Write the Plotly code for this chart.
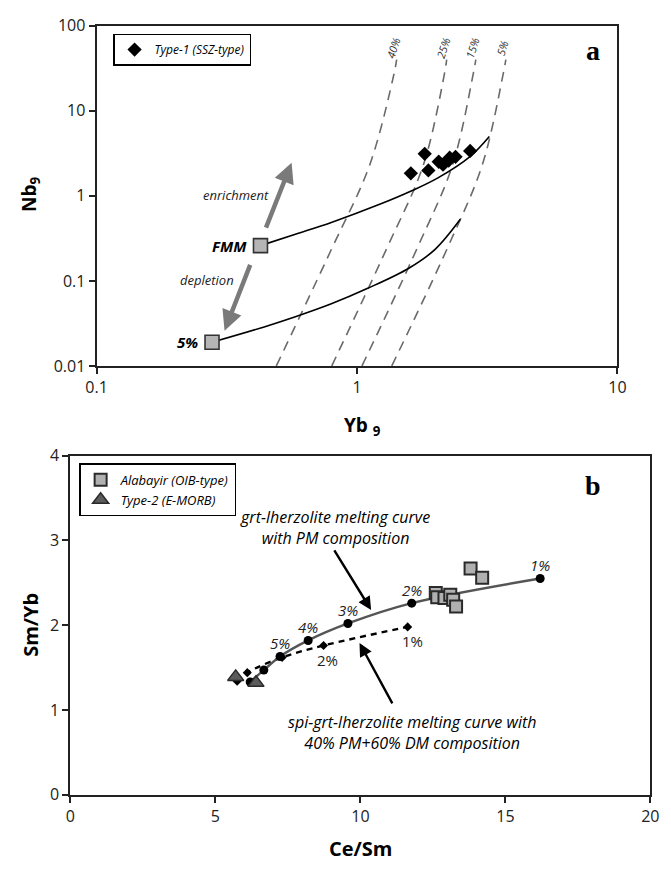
import numpy as np
import plotly.graph_objects as go

# ---------------- Panel a data ----------------
type1_yb = [1.61, 1.82, 1.88, 2.06, 2.14, 2.25, 2.27, 2.39, 2.72]
type1_nb = [1.84, 3.12, 1.99, 2.52, 2.33, 2.60, 2.81, 2.88, 3.38]

ref_labels = ["FMM", "5%"]
ref_yb = [0.426, 0.2775]
ref_nb = [0.26, 0.019]

fmm_curve_yb = [0.426, 0.580, 0.797, 1.222, 1.623, 2.046, 2.716, 3.223]
fmm_curve_nb = [0.26, 0.354, 0.487, 0.796, 1.15, 1.63, 2.9, 5.0]

dep_curve_yb = [0.2775, 0.437, 0.580, 0.797, 1.094, 1.582, 1.995, 2.493]
dep_curve_nb = [0.019, 0.0286, 0.0379, 0.0538, 0.0813, 0.141, 0.235, 0.53]

melt_labels = ["40%", "25%", "15%", "5%"]
melt_nb = [0.01, 0.24, 2.33, 28, 40]
melt40_yb = [0.49, 0.80, 1.12, 1.39, 1.42]
melt25_yb = [0.80, 1.30, 1.80, 2.17, 2.21]
melt15_yb = [1.045, 1.70, 2.33, 2.80, 2.86]
melt05_yb = [1.36, 2.22, 3.03, 3.65, 3.73]

enrich_arrow_yb = [0.445, 0.561]   # tail, head
enrich_arrow_nb = [0.406, 2.46]
deplet_arrow_yb = [0.391, 0.310]
deplet_arrow_nb = [0.161, 0.026]

# ---------------- Panel b data ----------------
alab_cesm = [12.6, 12.65, 12.9, 13.1, 13.2, 13.3, 13.8, 14.2]
alab_smyb = [2.38, 2.33, 2.32, 2.36, 2.30, 2.22, 2.67, 2.56]

type2_cesm = [5.7, 6.4]
type2_smyb = [1.39, 1.32]

grt_cesm = [6.2, 6.67, 7.23, 8.2, 9.57, 11.77, 16.2]
grt_smyb = [1.33, 1.47, 1.63, 1.82, 2.02, 2.26, 2.55]
grt_labels = ["", "", "5%", "4%", "3%", "2%", "1%"]

spi_cesm = [5.75, 6.1, 7.3, 8.73, 11.63]
spi_smyb = [1.34, 1.44, 1.62, 1.76, 1.98]
spi_labels = ["", "", "", "2%", "1%"]

# page has an 8px body margin; layout is sized to fit inside the 671x873 window
OFF = 8
W, H = 671 - OFF, 873 - OFF
FONT = "Open Sans"


def fx(px):  # page pixel -> paper x
    return (px - OFF) / W


def fy(py):  # page pixel -> paper y
    return 1 - (py - OFF) / H


fig = go.Figure()

# --- panel a traces ---
for xs in [melt40_yb, melt25_yb, melt15_yb, melt05_yb]:
    fig.add_trace(go.Scatter(x=xs, y=melt_nb, mode="lines", xaxis="x", yaxis="y",
                             line=dict(color="#6a6a6a", width=1.6, dash="10px,7px", shape="spline"),
                             showlegend=False, hoverinfo="skip"))
fig.add_trace(go.Scatter(x=fmm_curve_yb, y=fmm_curve_nb, mode="lines", xaxis="x", yaxis="y",
                         line=dict(color="black", width=1.6, shape="spline", smoothing=1.0),
                         showlegend=False))
fig.add_trace(go.Scatter(x=dep_curve_yb, y=dep_curve_nb, mode="lines", xaxis="x", yaxis="y",
                         line=dict(color="black", width=1.6, shape="spline", smoothing=1.0),
                         showlegend=False))
fig.add_trace(go.Scatter(x=ref_yb, y=ref_nb, mode="markers", xaxis="x", yaxis="y",
                         marker=dict(symbol="square", size=14, color="#b5b5b5",
                                     line=dict(color="#333333", width=1.6)),
                         showlegend=False))
fig.add_trace(go.Scatter(x=type1_yb, y=type1_nb, mode="markers", xaxis="x", yaxis="y",
                         name="Type-1 (SSZ-type)", legend="legend",
                         marker=dict(symbol="diamond", size=11, color="black")))

# --- panel b traces ---
fig.add_trace(go.Scatter(x=spi_cesm, y=spi_smyb, mode="lines+markers", xaxis="x2", yaxis="y2",
                         line=dict(color="black", width=2.4, dash="6px,5px", shape="spline"),
                         marker=dict(symbol="diamond", size=7, color="black"),
                         showlegend=False))
fig.add_trace(go.Scatter(x=grt_cesm, y=grt_smyb, mode="lines+markers", xaxis="x2", yaxis="y2",
                         line=dict(color="#555555", width=2.4, shape="spline"),
                         marker=dict(symbol="circle", size=9, color="black"),
                         showlegend=False))
fig.add_trace(go.Scatter(x=alab_cesm, y=alab_smyb, mode="markers", xaxis="x2", yaxis="y2",
                         name="Alabayir (OIB-type)", legend="legend2",
                         marker=dict(symbol="square", size=12, color="#b0b0b0",
                                     line=dict(color="#2a2a2a", width=2))))
fig.add_trace(go.Scatter(x=type2_cesm, y=type2_smyb, mode="markers", xaxis="x2", yaxis="y2",
                         name="Type-2 (E-MORB)", legend="legend2",
                         marker=dict(symbol="triangle-up", size=14, color="#5c5c5c",
                                     line=dict(color="#2a2a2a", width=1.5))))

# ---------------- annotations ----------------
ann = []
L = np.log10
C = dict(xanchor="center", yanchor="middle")
# panel a arrows
for xs, ys in [(enrich_arrow_yb, enrich_arrow_nb), (deplet_arrow_yb, deplet_arrow_nb)]:
    ann.append(dict(xref="x", yref="y", axref="x", ayref="y",
                    x=float(L(xs[1])), y=float(L(ys[1])), ax=float(L(xs[0])), ay=float(L(ys[0])),
                    showarrow=True, arrowhead=2, arrowsize=0.9, arrowwidth=4.5,
                    arrowcolor="#7a7a7a", text=""))
ann.append(dict(xref="x", yref="y", x=-0.464, y=0.011, text="<i>enrichment</i>",
                showarrow=False, font=dict(family=FONT, size=13, color="#222"), **C))
ann.append(dict(xref="x", yref="y", x=-0.575, y=-0.989, text="<i>depletion</i>",
                showarrow=False, font=dict(family=FONT, size=13, color="#222"), **C))
for lab, xx, yy in zip(ref_labels, ref_yb, ref_nb):
    ann.append(dict(xref="x", yref="y", x=float(L(xx)) - 0.045, y=float(L(yy)),
                    text="<b><i>%s</i></b>" % lab, showarrow=False, xanchor="right",
                    yanchor="middle", font=dict(family=FONT, size=15, color="black")))
for lab, xs in zip(melt_labels, [melt40_yb, melt25_yb, melt15_yb, melt05_yb]):
    ann.append(dict(xref="x", yref="y", x=float(L(xs[-1])) - 0.012, y=1.74,
                    text="<i>%s</i>" % lab, showarrow=False, textangle=-72,
                    font=dict(family=FONT, size=11, color="#333"), **C))
ann.append(dict(xref="paper", yref="paper", x=fx(600), y=fy(40), text="<b>a</b>",
                showarrow=False, font=dict(family="Liberation Serif", size=28, color="black"), **C))
ann.append(dict(xref="paper", yref="paper", x=fx(20), y=fy(188),
                text="<b>Nb<sub>9</sub></b>", textangle=-90, showarrow=False,
                font=dict(family=FONT, size=19, color="black"), **C))
ann.append(dict(xref="paper", yref="paper", x=fx(362), y=fy(426),
                text="<b>Yb <sub>9</sub></b>", showarrow=False,
                font=dict(family=FONT, size=19, color="black"), **C))

# panel b labels
for xx, yy, lab in zip(grt_cesm, grt_smyb, grt_labels):
    if lab:
        ann.append(dict(xref="x2", yref="y2", x=xx, y=yy + 0.16, text="<i>%s</i>" % lab,
                        showarrow=False, font=dict(family=FONT, size=15, color="#222"), **C))
for xx, yy, lab in zip(spi_cesm, spi_smyb, spi_labels):
    if lab:
        ann.append(dict(xref="x2", yref="y2", x=xx + 0.15, y=yy - 0.17, text=lab,
                        showarrow=False, font=dict(family=FONT, size=15, color="#222"), **C))
ann.append(dict(xref="x2", yref="y2", x=9.13, y=3.155,
                text="<i>grt-lherzolite melting curve<br>with PM composition</i>",
                showarrow=False, font=dict(family=FONT, size=16, color="black"), **C))
ann.append(dict(xref="x2", yref="y2", x=11.77, y=0.735,
                text="<i>spi-grt-lherzolite melting curve with<br>40% PM+60% DM composition</i>",
                showarrow=False, font=dict(family=FONT, size=16, color="black"), **C))
ann.append(dict(xref="x2", yref="y2", axref="x2", ayref="y2", x=10.37, y=2.18, ax=9.07, ay=2.9,
                showarrow=True, arrowhead=2, arrowsize=1.1, arrowwidth=2.4, arrowcolor="black", text=""))
ann.append(dict(xref="x2", yref="y2", axref="x2", ayref="y2", x=9.97, y=1.79, ax=11.13, ay=1.06,
                showarrow=True, arrowhead=2, arrowsize=1.1, arrowwidth=2.4, arrowcolor="black", text=""))
ann.append(dict(xref="paper", yref="paper", x=fx(600), y=fy(487), text="<b>b</b>",
                showarrow=False, font=dict(family="Liberation Serif", size=28, color="black"), **C))
ann.append(dict(xref="paper", yref="paper", x=fx(20), y=fy(630),
                text="<b>Sm/Yb</b>", textangle=-90, showarrow=False,
                font=dict(family=FONT, size=20, color="black"), **C))
ann.append(dict(xref="paper", yref="paper", x=fx(360), y=fy(859),
                text="<b>Ce/Sm</b>", showarrow=False,
                font=dict(family=FONT, size=20, color="black"), **C))

axis_common = dict(showline=True, mirror=True, linecolor="#222", linewidth=2,
                   ticks="outside", ticklen=6, tickwidth=1.6, tickcolor="#222",
                   showgrid=False, zeroline=False,
                   tickfont=dict(family=FONT, size=16, color="#222"))

fig.update_layout(
    width=W, height=H, margin=dict(l=0, r=0, t=0, b=0),
    paper_bgcolor="white", plot_bgcolor="white",
    xaxis=dict(type="log", range=[-1, 1], domain=[fx(88), fx(625)], anchor="y",
               tickvals=[0.1, 1, 10], ticktext=["0.1", "1", "10"], **axis_common),
    yaxis=dict(type="log", range=[-2, 2], domain=[fy(364), fy(15)], anchor="x",
               tickvals=[0.01, 0.1, 1, 10, 100], ticktext=["0.01", "0.1", "1", "10", "100"],
               **axis_common),
    xaxis2=dict(range=[0, 20], domain=[fx(61), fx(659)], anchor="y2", dtick=5, **axis_common),
    yaxis2=dict(range=[0, 4], domain=[fy(804), fy(456)], anchor="x2", dtick=1, **axis_common),
    legend=dict(x=fx(105), y=fy(23), xanchor="left", yanchor="top",
                bgcolor="white", bordercolor="black", borderwidth=1.5,
                font=dict(family=FONT, size=12, color="black", style="italic"),
                itemwidth=30, tracegroupgap=0),
    legend2=dict(x=fx(70), y=fy(464), xanchor="left", yanchor="top",
                 bgcolor="white", bordercolor="black", borderwidth=1.5,
                 font=dict(family=FONT, size=13, color="black", style="italic"),
                 itemwidth=30, tracegroupgap=0),
    annotations=ann,
)

fig.write_html("out.html")
